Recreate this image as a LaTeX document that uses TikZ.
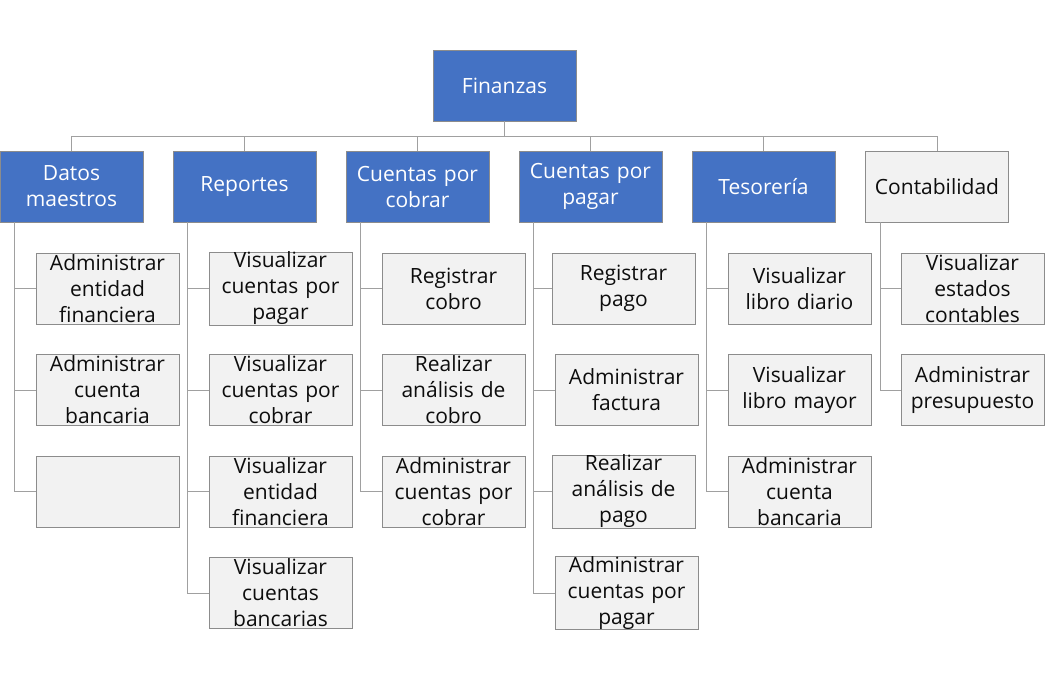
\documentclass[tikz,border=0pt]{standalone}
\usepackage{fontspec}
\setmainfont{Open Sans}
\definecolor{blueboxfill}{HTML}{4472C4}
\definecolor{grayboxfill}{HTML}{F2F2F2}
\definecolor{boxborder}{HTML}{8C8C8C}
\definecolor{connline}{HTML}{A0A0A0}
\definecolor{darktext}{HTML}{0D0D0D}
\begin{document}
\begin{tikzpicture}[x=1pt,y=-1pt,
  basebox/.style={draw=boxborder, line width=0.9pt, minimum width=143pt, minimum height=71pt,
    inner sep=0pt, text width=143pt, align=center, font=\fontsize{21}{26}\selectfont},
  bluebox/.style={basebox, fill=blueboxfill, text=white},
  graybox/.style={basebox, fill=grayboxfill, text=darktext},
  conn/.style={draw=connline, line width=1pt}]
\useasboundingbox (0,0) rectangle (1051,679);

% top
\node[bluebox] (fin) at (504.5,85.5) {Finanzas};

% level 1
\node[bluebox] (dm) at (71.5,186.5) {Datos\\maestros};
\node[bluebox] (rep) at (244.5,186.5) {Reportes};
\node[bluebox] (cxc) at (417.5,186.5) {Cuentas por\\cobrar};
\node[bluebox] (cxp) at (590.5,186.5) {Cuentas por\\pagar};
\node[bluebox] (tes) at (763.5,186.5) {Tesorería};
\node[graybox] (con) at (937,186.5) {Contabilidad};

\foreach \n in {dm,rep,cxc,cxp,tes,con}
  \draw[conn] (fin.south) -- ++(0,15) -| (\n.north);

% Datos maestros children
\node[graybox] (dm1) at (107.5,288.5) {Administrar\\entidad\\financiera};
\node[graybox] (dm2) at (107.5,390) {Administrar\\cuenta\\bancaria};
\node[graybox] (dm3) at (107.5,491.5) {};

% Reportes children
\node[graybox] (rep1) at (280.5,288.5) {Visualizar\\cuentas por\\pagar};
\node[graybox] (rep2) at (280.5,390) {Visualizar\\cuentas por\\cobrar};
\node[graybox] (rep3) at (280.5,491.5) {Visualizar\\entidad\\financiera};
\node[graybox] (rep4) at (280.5,593) {Visualizar\\cuentas\\bancarias};

% Cuentas por cobrar children
\node[graybox] (cxc1) at (453.5,288.5) {Registrar\\cobro};
\node[graybox] (cxc2) at (453.5,390) {Realizar\\análisis de\\cobro};
\node[graybox] (cxc3) at (453.5,491.5) {Administrar\\cuentas por\\cobrar};

% Cuentas por pagar children
\node[graybox] (cxp1) at (623.5,288.5) {Registrar\\pago};
\node[graybox] (cxp2) at (626.5,390) {Administrar\\factura};
\node[graybox] (cxp3) at (623.5,491.5) {Realizar\\análisis de\\pago};
\node[graybox] (cxp4) at (626.5,593) {Administrar\\cuentas por\\pagar};

% Tesoreria children
\node[graybox] (tes1) at (799.5,288.5) {Visualizar\\libro diario};
\node[graybox] (tes2) at (799.5,390) {Visualizar\\libro mayor};
\node[graybox] (tes3) at (799.5,491.5) {Administrar\\cuenta\\bancaria};

% Contabilidad children
\node[graybox] (con1) at (972.5,288.5) {Visualizar\\estados\\contables};
\node[graybox] (con2) at (972.5,390) {Administrar\\presupuesto};

% child connectors
\foreach \p/\list in {dm/{dm1,dm2,dm3}, rep/{rep1,rep2,rep3,rep4}, cxc/{cxc1,cxc2,cxc3},
    cxp/{cxp1,cxp2,cxp3,cxp4}, tes/{tes1,tes2,tes3}, con/{con1,con2}}
  \foreach \c in \list
    \draw[conn] ([xshift=15pt]\p.south west) |- (\c.west);
\end{tikzpicture}
\end{document}
